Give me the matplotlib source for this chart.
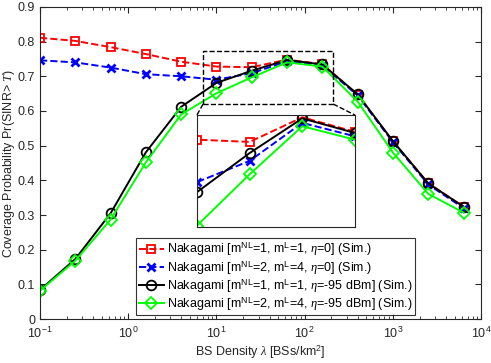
import numpy as np
import matplotlib
matplotlib.use("Agg")
import matplotlib.pyplot as plt

plt.rcParams['font.family'] = ['Liberation Sans', 'DejaVu Sans']
plt.rcParams['mathtext.fontset'] = 'custom'
plt.rcParams['mathtext.rm'] = 'Liberation Sans'
plt.rcParams['mathtext.sf'] = 'Liberation Sans'
plt.rcParams['mathtext.it'] = 'Liberation Serif:italic'

# BS densities (BSs/km^2)
density = [0.1, 0.251, 0.631, 1.585, 3.981, 10, 25.12, 63.1, 158.5, 398.1, 1000, 2512, 6310]

# coverage probabilities
cov_m1_eta0 = [0.811, 0.802, 0.784, 0.764, 0.742, 0.728, 0.726, 0.748, 0.735, 0.647, 0.512, 0.392, 0.324]
cov_m2_eta0 = [0.746, 0.740, 0.725, 0.706, 0.700, 0.690, 0.709, 0.743, 0.731, 0.645, 0.510, 0.388, 0.320]
cov_m1_eta95 = [0.084, 0.173, 0.305, 0.481, 0.612, 0.681, 0.716, 0.747, 0.734, 0.648, 0.513, 0.391, 0.324]
cov_m2_eta95 = [0.082, 0.168, 0.287, 0.452, 0.590, 0.651, 0.697, 0.740, 0.728, 0.627, 0.480, 0.361, 0.307]

labels = [r'Nakagami [m$^{\rm NL}$=1, m$^{\rm L}$=1, $\eta$=0] (Sim.)',
          r'Nakagami [m$^{\rm NL}$=2, m$^{\rm L}$=4, $\eta$=0] (Sim.)',
          r'Nakagami [m$^{\rm NL}$=1, m$^{\rm L}$=1, $\eta$=-95 dBm] (Sim.)',
          r'Nakagami [m$^{\rm NL}$=2, m$^{\rm L}$=4, $\eta$=-95 dBm] (Sim.)']

styles = [dict(color='#ff0000', ls='--', marker='s', mfc='none', ms=6, mew=1.3),
          dict(color='#0000ff', ls='--', marker='x', ms=5.5, mew=2),
          dict(color='#000000', ls='-', marker='o', mfc='none', ms=7, mew=1.3),
          dict(color='#00ff00', ls='-', marker='D', mfc='none', ms=6, mew=1.3)]
series = [cov_m1_eta0, cov_m2_eta0, cov_m1_eta95, cov_m2_eta95]
ink = '#262626'

fig = plt.figure(figsize=(4.91, 3.63), dpi=100)
ax = fig.add_axes([0.0815, 0.121, 0.8985, 0.860])

for y, st, lb in zip(series, styles, labels):
    ax.plot(density, y, lw=1.4, label=lb, **st)

ax.set_xscale('log')
ax.set_xlim(0.1, 1e4)
ax.set_ylim(0, 0.9)
ax.set_yticks(np.arange(0, 0.91, 0.1))
ax.set_yticklabels(['0', '0.1', '0.2', '0.3', '0.4', '0.5', '0.6', '0.7', '0.8', '0.9'])
ax.tick_params(which='both', direction='in', top=True, right=True, labelsize=9, colors=ink)
ax.tick_params(which='major', length=4)
ax.tick_params(which='minor', length=2)
ax.tick_params(axis='x', pad=5)
for s in ax.spines.values():
    s.set_color(ink)
ax.set_xlabel(r'BS Density $\lambda$ [BSs/km$^2$]', fontsize=9, color=ink)
ax.set_ylabel(r'Coverage Probability Pr(SINR> $T$)', fontsize=9, color=ink)
ax.xaxis.set_label_coords(0.5, -0.077)
ax.yaxis.set_label_coords(-0.053, 0.5)

leg = ax.legend(loc='lower left', bbox_to_anchor=(0.218, 0.012), fontsize=9, frameon=True,
                fancybox=False, edgecolor='black', handlelength=2.0, borderpad=0.2,
                labelspacing=0.05, handletextpad=0.3, borderaxespad=0)
leg.get_frame().set_linewidth(0.8)

# zoom rectangle on main axes
x0, x1, y0, y1 = 7.05, 210, 0.62, 0.774
ax.plot([x0, x1, x1, x0, x0], [y0, y0, y1, y1, y0], 'k--', lw=1)

# inset
ins = fig.add_axes([0.401, 0.375, 0.322, 0.308])
for y, st in zip(series, styles):
    ins.plot(density, y, lw=1.4, **st)
ins.set_xscale('log')
ins.set_xlim(10, 158.5)
ins.set_ylim(0.65, 0.75)
ins.set_xticks([])
ins.set_yticks([])
ins.minorticks_off()
for s in ins.spines.values():
    s.set_color(ink)
    s.set_linewidth(0.8)

# connector lines (figure coords)
def fig_xy(a, x, y):
    return fig.transFigure.inverted().transform(a.transData.transform((x, y)))

for (mx, my), (ix, iy) in [((x0, y0), (10, 0.75)), ((x1, y0), (158.5, 0.75))]:
    p = fig_xy(ax, mx, my)
    q = fig_xy(ins, ix, iy)
    fig.add_artist(plt.Line2D([p[0], q[0]], [p[1], q[1]], transform=fig.transFigure,
                              color='k', ls='--', lw=1))

fig.savefig('out.png', dpi=100)
